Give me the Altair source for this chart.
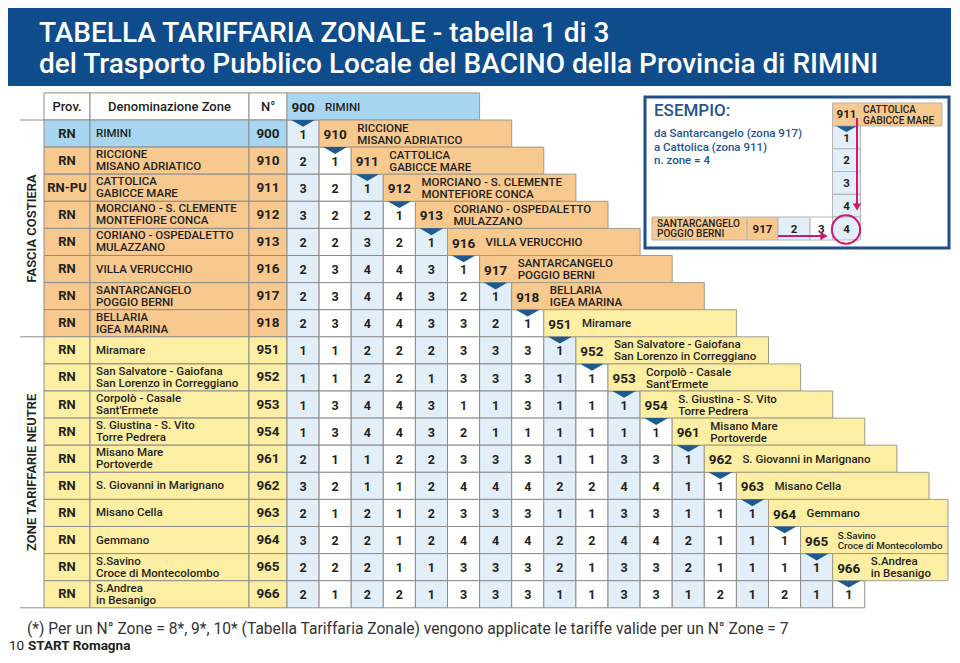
import altair as alt
import pandas as pd

# ---------------- data ----------------
zones = ["900", "910", "911", "912", "913", "916", "917", "918", "951", "952",
         "953", "954", "961", "962", "963", "964", "965", "966"]
prov = ["RN", "RN", "RN-PU", "RN", "RN", "RN", "RN", "RN", "RN", "RN",
        "RN", "RN", "RN", "RN", "RN", "RN", "RN", "RN"]
names = ["RIMINI", "RICCIONE\nMISANO ADRIATICO", "CATTOLICA\nGABICCE MARE",
         "MORCIANO - S. CLEMENTE\nMONTEFIORE CONCA", "CORIANO - OSPEDALETTO\nMULAZZANO",
         "VILLA VERUCCHIO", "SANTARCANGELO\nPOGGIO BERNI", "BELLARIA\nIGEA MARINA",
         "Miramare", "San Salvatore - Gaiofana\nSan Lorenzo in Correggiano",
         "Corpolò - Casale\nSant'Ermete", "S. Giustina - S. Vito\nTorre Pedrera",
         "Misano Mare\nPortoverde", "S. Giovanni in Marignano", "Misano Cella",
         "Gemmano", "S.Savino\nCroce di Montecolombo", "S.Andrea\nin Besanigo"]
groups = ["base"] + ["costiera"] * 7 + ["neutre"] * 10
fares = [
    [1],
    [2, 1],
    [3, 2, 1],
    [3, 2, 2, 1],
    [2, 2, 3, 2, 1],
    [2, 3, 4, 4, 3, 1],
    [2, 3, 4, 4, 3, 2, 1],
    [2, 3, 4, 4, 3, 3, 2, 1],
    [1, 1, 2, 2, 2, 3, 3, 3, 1],
    [1, 1, 2, 2, 1, 3, 3, 3, 1, 1],
    [1, 3, 4, 4, 3, 1, 1, 3, 1, 1, 1],
    [1, 3, 4, 4, 3, 2, 1, 1, 1, 1, 1, 1],
    [2, 1, 1, 2, 2, 3, 3, 3, 1, 1, 3, 3, 1],
    [3, 2, 1, 1, 2, 4, 4, 4, 2, 2, 4, 4, 1, 1],
    [2, 1, 2, 1, 2, 3, 3, 3, 1, 1, 3, 3, 1, 1, 1],
    [3, 2, 2, 1, 2, 4, 4, 4, 2, 2, 4, 4, 2, 1, 1, 1],
    [2, 2, 2, 1, 1, 3, 3, 3, 2, 1, 3, 3, 2, 1, 1, 1, 1],
    [2, 1, 2, 2, 1, 3, 3, 3, 1, 1, 3, 3, 1, 2, 1, 2, 1, 1],
]
title_lines = ["TABELLA TARIFFARIA ZONALE - tabella 1 di 3",
               "del Trasporto Pubblico Locale del BACINO della Provincia di RIMINI"]
header_labels = ["Prov.", "Denominazione Zone", "N°"]
section_labels = ["FASCIA COSTIERA", "ZONE TARIFFARIE NEUTRE"]
footnote = ("(*) Per un N° Zone = 8*, 9*, 10*  (Tabella Tariffaria Zonale) "
            "vengono applicate le tariffe valide per un N° Zone = 7")
page_no = "10"
brand = "START Romagna"
example_title = "ESEMPIO:"
example_lines = ["da Santarcangelo (zona 917)", "a Cattolica (zona 911)", "n. zone = 4"]
example_col_zone = "911"
example_col_name = "CATTOLICA\nGABICCE MARE"
example_col_values = [1, 2, 3, 4]
example_row_zone = "917"
example_row_name = "SANTARCANGELO\nPOGGIO BERNI"
example_row_values = [2, 3, 4]

# ---------------- layout / style ----------------
W, H = 944, 647
X0, CW = 287.0, 32.1
Y0, RH = 120.0, 27.1
FONT = "Roboto"
C_BASE = "#A8D6F0"
C_ORANGE = "#F8C98F"
C_YELLOW = "#FCEFA3"
C_CELL = "#E2EFF9"
C_GRID = "#8C8C8C"
C_BOX = "#A09A88"
C_TRI = "#1C5A90"
C_TITLE = "#0E4C8C"
C_MAG = "#D1186F"
C_TXT = "#231F20"
C_EX = "#1F5591"
GROUP_FILL = {"base": C_BASE, "costiera": C_ORANGE, "neutre": C_YELLOW}
NAME_LH = 12.0
NAME_FS = 11.5
EX_LH = 10.5
EX_FS = 10


def cx(p):
    return (p - X0) / CW


def ry(p):
    return (p - Y0) / RH


def centred(y, text, lh):
    """shift a multi-line text up so that its block is centred on y (row units)"""
    n = text.count("\n")
    return y - n * lh / 2.0 / RH


xs = alt.Scale(domain=[cx(8), cx(8 + W)], nice=False, zero=False)
ys = alt.Scale(domain=[ry(8), ry(8 + H)], nice=False, zero=False, reverse=True)


def X(f="x"):
    return alt.X(f, type="quantitative", scale=xs, axis=None)


def Y(f="y"):
    return alt.Y(f, type="quantitative", scale=ys, axis=None)


def rect_layer(rows, **kw):
    df = pd.DataFrame(rows)
    return alt.Chart(df).mark_rect(**kw).encode(
        x=X("x"), x2="x2", y=Y("y"), y2="y2",
        fill=alt.Fill("fill:N", scale=None))


def text_layer(rows, **kw):
    df = pd.DataFrame(rows)
    kw.setdefault("font", FONT)
    kw.setdefault("lineBreak", "\n")
    enc = dict(x=X("x"), y=Y("y"), text="text:N")
    if "size" in df.columns:
        enc["size"] = alt.Size("size:Q", scale=None, legend=None)
    return alt.Chart(df).mark_text(**kw).encode(**enc)


layers = []

# title band
layers.append(rect_layer([dict(x=cx(7), x2=cx(951), y=ry(4), y2=ry(86), fill=C_TITLE)]))
layers.append(text_layer([dict(x=cx(39), y=ry(34), text=title_lines[0]),
                          dict(x=cx(39), y=ry(65), text=title_lines[1])],
                         align="left", baseline="middle", fontSize=28,
                         fontWeight=500, color="white"))

# left columns
col_edges = [cx(44), cx(90), cx(249), 0.0]
hdr_rects = [dict(x=col_edges[c], x2=col_edges[c + 1], y=-1, y2=0, fill="white") for c in range(3)]
layers.append(rect_layer(hdr_rects, stroke=C_GRID, strokeWidth=1))
layers.append(text_layer([dict(x=(col_edges[c] + col_edges[c + 1]) / 2, y=-0.48, text=header_labels[c])
                          for c in range(3)],
                         align="center", baseline="middle", fontSize=13, fontWeight=500, color=C_TXT))

left_rects = []
for i in range(len(zones)):
    for c in range(3):
        left_rects.append(dict(x=col_edges[c], x2=col_edges[c + 1], y=i, y2=i + 1,
                               fill=GROUP_FILL[groups[i]]))
layers.append(rect_layer(left_rects, stroke=C_GRID, strokeWidth=1))
layers.append(text_layer([dict(x=(col_edges[0] + col_edges[1]) / 2, y=i + 0.5, text=prov[i])
                          for i in range(len(zones))],
                         align="center", baseline="middle", fontSize=13, fontWeight="bold", color=C_TXT))
layers.append(text_layer([dict(x=cx(96), y=centred(i + 0.52, names[i], NAME_LH), text=names[i])
                          for i in range(len(zones))],
                         align="left", baseline="middle", fontSize=NAME_FS, fontWeight=500,
                         lineHeight=NAME_LH, color=C_TXT))
layers.append(text_layer([dict(x=(col_edges[2] + col_edges[3]) / 2, y=i + 0.5, text=zones[i])
                          for i in range(len(zones))],
                         align="center", baseline="middle", fontSize=13.5, fontWeight="bold", color=C_TXT))

# section separators and vertical labels
sep = pd.DataFrame([dict(x=cx(20), x2=cx(44), y=v) for v in (0, 8, 18)])
layers.append(alt.Chart(sep).mark_rule(color=C_GRID, strokeWidth=1).encode(x=X("x"), x2="x2", y=Y("y")))
layers.append(text_layer([dict(x=cx(32), y=4.0, text=section_labels[0]),
                          dict(x=cx(32), y=13.0, text=section_labels[1])],
                         align="center", baseline="middle", angle=270, fontSize=13,
                         fontWeight=600, color=C_TXT))

# matrix cells
cells, vals = [], []
for i, row in enumerate(fares):
    for j, v in enumerate(row):
        cells.append(dict(x=j, x2=j + 1, y=i, y2=i + 1, fill=C_CELL if j % 2 == 0 else "white"))
        vals.append(dict(x=j + 0.5, y=i + 0.54, text=str(v)))
layers.append(rect_layer(cells, stroke=C_GRID, strokeWidth=1))
layers.append(text_layer(vals, align="center", baseline="middle", fontSize=12.5,
                         fontWeight="bold", color=C_TXT))

# diagonal label boxes
clip_x = cx(948)
boxes, nums, labs_big, labs_small = [], [], [], []
for k in range(len(zones)):
    boxes.append(dict(x=k, x2=min(k + 6, clip_x), y=k - 1, y2=k, fill=GROUP_FILL[groups[k]]))
    nums.append(dict(x=k + 0.5, y=k - 0.44, text=zones[k]))
    if k == 16:
        labs_small.append(dict(x=k + 1 + 5 / CW, y=centred(k - 0.46, names[k], 10.5), text=names[k]))
    else:
        labs_big.append(dict(x=k + 1 + 6 / CW, y=centred(k - 0.46, names[k], NAME_LH), text=names[k]))
layers.append(rect_layer(boxes, stroke=C_BOX, strokeWidth=1))
layers.append(text_layer(nums, align="center", baseline="middle", fontSize=13.5,
                         fontWeight="bold", color=C_TXT))
layers.append(text_layer(labs_big, align="left", baseline="middle", fontWeight=500,
                         fontSize=NAME_FS, lineHeight=NAME_LH, color=C_TXT))
layers.append(text_layer(labs_small, align="left", baseline="middle", fontWeight=500,
                         fontSize=9.8, lineHeight=10.5, color=C_TXT))

# diagonal markers
TRI_SHAPE = "M-1,-0.28 L1,-0.28 L0,0.3 Z"
tri = pd.DataFrame([dict(x=k + 0.5, y=k + 0.12) for k in range(len(zones))])
layers.append(alt.Chart(tri).mark_point(shape=TRI_SHAPE, filled=True, opacity=1, size=560,
                                        color=C_TRI, strokeWidth=0).encode(x=X("x"), y=Y("y")))

# ---------------- example box ----------------
layers.append(rect_layer([dict(x=cx(645), x2=cx(949), y=ry(97), y2=ry(248), fill="white")],
                         stroke="#1F4E89", strokeWidth=3))
layers.append(text_layer([dict(x=cx(654), y=ry(111), text=example_title)],
                         align="left", baseline="middle", fontSize=17, fontWeight=500, color=C_EX))
layers.append(text_layer([dict(x=cx(654), y=ry(134 + 13.5 * n), text=t) for n, t in enumerate(example_lines)],
                         align="left", baseline="middle", fontSize=11.5, fontWeight=500, color=C_EX))
ex_cx0, ex_cx1 = cx(832.5), cx(860.5)
ex_rh = 22.75
ex_rects = [dict(x=ex_cx0, x2=cx(942), y=ry(103), y2=ry(126), fill=C_ORANGE)]
for n in range(len(example_col_values)):
    ex_rects.append(dict(x=ex_cx0, x2=ex_cx1, y=ry(126 + ex_rh * n), y2=ry(126 + ex_rh * (n + 1)), fill=C_CELL))
ex_rects.append(dict(x=cx(652), x2=cx(747), y=ry(217), y2=ry(240), fill=C_ORANGE))
ex_rects.append(dict(x=cx(747), x2=cx(778), y=ry(217), y2=ry(240), fill=C_ORANGE))
row_edges = [778, 810, 832.5, 860.5]
for n in range(len(example_row_values)):
    ex_rects.append(dict(x=cx(row_edges[n]), x2=cx(row_edges[n + 1]), y=ry(217), y2=ry(240),
                         fill=C_CELL if n != 1 else "white"))
layers.append(rect_layer(ex_rects, stroke="#B5B5B5", strokeWidth=1))
ex_vals = [dict(x=(ex_cx0 + ex_cx1) / 2, y=ry(126 + ex_rh * (n + 0.55)), text=str(v))
           for n, v in enumerate(example_col_values)]
ex_vals += [dict(x=cx((row_edges[n] + row_edges[n + 1]) / 2), y=ry(229.5), text=str(v))
            for n, v in enumerate(example_row_values)]
ex_vals += [dict(x=(ex_cx0 + ex_cx1) / 2, y=ry(115), text=example_col_zone),
            dict(x=cx(762.5), y=ry(229.5), text=example_row_zone)]
layers.append(text_layer(ex_vals, align="center", baseline="middle", fontSize=11.5,
                         fontWeight="bold", color=C_TXT))
layers.append(text_layer([dict(x=cx(863), y=centred(ry(115.5), example_col_name, EX_LH), text=example_col_name),
                          dict(x=cx(657), y=centred(ry(229), example_row_name, EX_LH), text=example_row_name)],
                         align="left", baseline="middle", fontSize=EX_FS, fontWeight=500,
                         lineHeight=EX_LH, color=C_TXT))
ex_tri = pd.DataFrame([dict(x=(ex_cx0 + ex_cx1) / 2, y=ry(129))])
layers.append(alt.Chart(ex_tri).mark_point(shape=TRI_SHAPE, filled=True, opacity=1, size=420,
                                           color=C_TRI, strokeWidth=0).encode(x=X("x"), y=Y("y")))
arr = pd.DataFrame([dict(x=cx(857), x2=cx(857), y=ry(118), y2=ry(204)),
                    dict(x=cx(778), x2=cx(821), y=ry(236), y2=ry(236))])
layers.append(alt.Chart(arr).mark_rule(color=C_MAG, strokeWidth=2).encode(
    x=X("x"), x2="x2", y=Y("y"), y2="y2"))
heads = pd.DataFrame([dict(x=cx(857), y=ry(207), s="triangle-down"),
                      dict(x=cx(824), y=ry(236), s="triangle-right")])
layers.append(alt.Chart(heads).mark_point(filled=True, opacity=1, size=70, color=C_MAG, strokeWidth=0).encode(
    x=X("x"), y=Y("y"), shape=alt.Shape("s:N", scale=None, legend=None)))
circ = pd.DataFrame([dict(x=cx(846), y=ry(229.5))])
layers.append(alt.Chart(circ).mark_point(shape="circle", filled=False, opacity=1, size=800,
                                         color=C_MAG, strokeWidth=2).encode(x=X("x"), y=Y("y")))

# ---------------- footer ----------------
layers.append(text_layer([dict(x=cx(27), y=ry(629), text=footnote)],
                         align="left", baseline="middle", fontSize=15.6, color="#333333"))
layers.append(text_layer([dict(x=cx(9), y=ry(650), text=page_no)],
                         align="left", baseline="alphabetic", fontSize=13.5, color="#222222"))
layers.append(text_layer([dict(x=cx(28), y=ry(650), text=brand)],
                         align="left", baseline="alphabetic", fontSize=13.5, fontWeight="bold", color="#222222"))

chart = alt.layer(*layers).properties(
    width=W, height=H, padding=0,
    autosize=alt.AutoSizeParams(type="none"),
).configure_view(stroke=None)

chart.save("out.html", embed_options={"renderer": "svg", "actions": False})
